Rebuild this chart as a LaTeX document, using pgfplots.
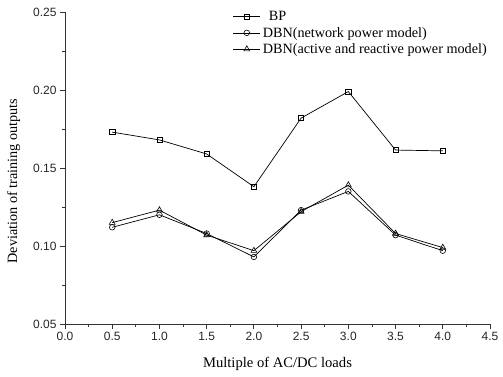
\documentclass[border=0pt]{standalone}
\usepackage{fontspec}
\setmainfont{Liberation Serif}
\newfontfamily\arial{Liberation Sans}
\usepackage{pgfplots}
\pgfplotsset{compat=1.18}
\begin{document}
\begin{tikzpicture}[x=1pt,y=1pt]
\useasboundingbox (0,0) rectangle (503,376);
\clip (0,0) rectangle (503,376);
\begin{axis}[
  at={(65pt,52pt)}, anchor=south west,
  scale only axis, width=425pt, height=312pt,
  xmin=0, xmax=4.5, ymin=0.05, ymax=0.25,
  axis x line*=bottom, axis y line*=left,
  axis line style={line width=0.9pt, color=black!80, -},
  xtick={0,0.5,...,4.5}, ytick={0.05,0.10,0.15,0.20,0.25},
  minor x tick num=1, minor y tick num=1,
  tick align=outside,
  major tick length=5pt, minor tick length=3pt,
  tick style={line width=0.8pt, color=black!80},
  xticklabel style={/pgf/number format/.cd, fixed, fixed zerofill, precision=1},
  yticklabel style={/pgf/number format/.cd, fixed, fixed zerofill, precision=2},
  /pgf/number format/assume math mode=true,
  ticklabel style={font=\arial\fontsize{12}{14}\selectfont, text=black!85},
  xlabel={Multiple of AC/DC loads},
  ylabel={Deviation of training outputs},
  xlabel style={font=\fontsize{14.6}{17}\selectfont, at={(axis description cs:0.5,-0.128)}, anchor=center},
  ylabel style={font=\fontsize{14.2}{17}\selectfont, at={(axis description cs:-0.121,0.458)}, anchor=center},
  legend style={at={(0.395,1.009)}, anchor=north west, draw=none, fill=none,
    font=\fontsize{14.2}{17}\selectfont, inner sep=0pt, row sep=1pt,
    legend cell align=left,
    /tikz/every even column/.append style={column sep=9pt}},
  legend image code/.code={\draw[mark repeat=2,mark phase=2] plot coordinates {(0cm,0cm)(0.47cm,0cm)(0.95cm,0cm)};},
  clip=false,
]
\addplot[black, line width=0.7pt, mark=square, mark size=2.6pt, mark options={solid, fill=white, line width=0.6pt}] coordinates {
 (0.5,0.173) (1.0,0.168) (1.5,0.159) (2.0,0.138) (2.5,0.182) (3.0,0.199) (3.5,0.1615) (4.0,0.161)};
\addlegendentry{\hspace{6pt}BP}
\addplot[black, line width=0.7pt, mark=o, mark size=2.8pt, mark options={solid, fill=white, line width=0.6pt}] coordinates {
 (0.5,0.112) (1.0,0.120) (1.5,0.108) (2.0,0.093) (2.5,0.123) (3.0,0.135) (3.5,0.107) (4.0,0.097)};
\addlegendentry{DBN(network power model)}
\addplot[black, line width=0.7pt, mark=triangle, mark size=3.4pt, mark options={solid, fill=white, line width=0.6pt}] coordinates {
 (0.5,0.115) (1.0,0.123) (1.5,0.107) (2.0,0.097) (2.5,0.122) (3.0,0.139) (3.5,0.108) (4.0,0.099)};
\addlegendentry{DBN(active and reactive power model)}
\end{axis}
\end{tikzpicture}
\end{document}
